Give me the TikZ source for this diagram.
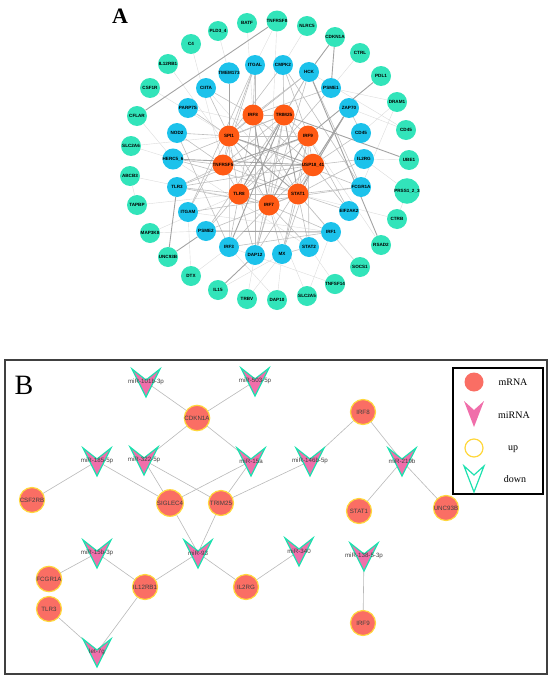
\documentclass[tikz,border=0pt]{standalone}
\usepackage{fontspec}
\setmainfont{Liberation Serif}
\setsansfont{Liberation Sans}
\usepackage{xcolor}
\definecolor{ColG}{RGB}{50,228,186}
\definecolor{ColB}{RGB}{28,194,235}
\definecolor{ColO}{RGB}{255,90,20}
\definecolor{ColM}{RGB}{250,110,100}
\definecolor{ColUp}{RGB}{255,215,60}
\definecolor{ColR}{RGB}{240,110,170}
\definecolor{ColDn}{RGB}{30,225,175}
\usepackage{tikz}
\usetikzlibrary{backgrounds}
\tikzstyle{NodeA}=[circle,inner sep=0pt,minimum size=20pt,
font=\fontsize{4.6}{5}\sffamily\bfseries]
\tikzstyle{Outer}=[NodeA,fill=ColG]
\tikzstyle{Mid}=[NodeA,fill=ColB]
\tikzstyle{Hub}=[NodeA,fill=ColO,minimum size=21pt]
\tikzstyle{EdgeL}=[draw=gray!28,line width=0.4pt]
\tikzstyle{EdgeM}=[draw=gray!50,line width=0.6pt]
\tikzstyle{EdgeD}=[draw=gray!72,line width=0.9pt]
\tikzstyle{MRNA}=[circle,draw=ColUp,fill=ColM,line width=1.2pt,
minimum size=25pt,inner sep=0pt,font=\fontsize{6.2}{7}\sffamily,text=black!75]
\tikzstyle{MiRLabel}=[inner sep=0pt,font=\fontsize{6.2}{7}\sffamily,text=black!75]
\tikzstyle{MiRShape}=[fill=ColR,draw=ColDn,line width=1.2pt,line join=miter]
\tikzstyle{EdgeB}=[draw=gray!55,line width=0.6pt]
\tikzstyle{LegText}=[font=\fontsize{10}{12}\selectfont]
% miRNA: name, x, y, label
\newcommand{\MiRna}[4]{%
  \path[MiRShape](#2-14,#3-13)--(#2,#3-2)--(#2+14,#3-13)--(#2,#3+15)--cycle;
  \node[MiRLabel](#1)at(#2,#3){#4};}
\begin{document}
\begin{tikzpicture}[x=1pt,y=-1pt]
    \useasboundingbox(0,0)rectangle(550,680);
    % panel A
    \node(labA)at(120,16){\fontsize{22}{22}\selectfont\bfseries A};
    % outer ring
    \node[Outer](batf)at(247,23){BATF};
    \node[Outer](tnfrsf8)at(277,21){TNFRSF8};
    \node[Outer](pld)at(218,31){PLD3\_4};
    \node[Outer](nlrc)at(307,26){NLRC5};
    \node[Outer](cdkn)at(335,37){CDKN1A};
    \node[Outer](c4)at(191,44){C4};
    \node[Outer](ctrl)at(360,53){CTRL};
    \node[Outer](ilrb)at(168,64){IL12RB1};
    \node[Outer](pdl)at(381,76){PDL1};
    \node[Outer](csf)at(150,88){CSF1R};
    \node[Outer](dram)at(397,102){DRAM1};
    \node[Outer](cflar)at(137,116){CFLAR};
    \node[Outer](cdg)at(406,130){CD45};
    \node[Outer](slcs)at(131,146){SLC2A6};
    \node[Outer](ube)at(409,160){UBE1};
    \node[Outer](abcb)at(130,176){ABCB3};
    \node[Outer](prss)at(407,191){PRSS1\_2\_3};
    \node[Outer](tapbp)at(137,205){TAPBP};
    \node[Outer](ctrb)at(397,219){CTRB};
    \node[Outer](map)at(150,233){MAP3K8};
    \node[Outer](rsad)at(381,245){RSAD2};
    \node[Outer](unc)at(168,257){UNC93B};
    \node[Outer](socs)at(360,267){SOCS1};
    \node[Outer](dtx)at(191,276){DTX};
    \node[Outer](tnfsf)at(335,284){TNFSF14};
    \node[Outer](il15)at(218,290){IL15};
    \node[Outer](slcf)at(307,296){SLC2A5};
    \node[Outer](trbv)at(247,299){TRBV};
    \node[Outer](dap10)at(277,300){DAP10};
    % middle ring
    \node[Mid](itgal)at(255,65){ITGAL};
    \node[Mid](cmpk)at(283,65){CMPK2};
    \node[Mid](hck)at(309,72){HCK};
    \node[Mid](tmem)at(229,73){TMEM173};
    \node[Mid](ciita)at(206,88){CIITA};
    \node[Mid](psmeA)at(331,88){PSME1};
    \node[Mid](parp)at(188,108){PARP7S};
    \node[Mid](zap)at(349,108){ZAP70};
    \node[Mid](nod)at(177,133){NOD2};
    \node[Mid](cdb)at(361,133){CD45};
    \node[Mid](herc)at(173,159){HERC5\_6};
    \node[Mid](ilrg)at(364,159){IL2RG};
    \node[Mid](tlr3)at(177,187){TLR3};
    \node[Mid](fcgr)at(361,187){FCGR1A};
    \node[Mid](itgam)at(188,212){ITGAM};
    \node[Mid](eif)at(349,211){EIF2AK2};
    \node[Mid](psmeB)at(206,231){PSME2};
    \node[Mid](irf1)at(331,232){IRF1};
    \node[Mid](irf3)at(229,247){IRF3};
    \node[Mid](stat2)at(309,247){STAT2};
    \node[Mid](dap12)at(255,255){DAP12};
    \node[Mid](mx)at(282,254){MX};
    % hubs
    \node[Hub](irfe)at(253,115){IRF8};
    \node[Hub](trim)at(284,115){TRIM25};
    \node[Hub](spi)at(229,136){SPI1};
    \node[Hub](irfn)at(308,136){IRF9};
    \node[Hub](tnfrsfv)at(223,165){TNFRSF5};
    \node[Hub](usp)at(313,165){USP18\_41};
    \node[Hub](tlr8)at(239,194){TLR8};
    \node[Hub](stat1)at(298,194){STAT1};
    \node[Hub](irf7)at(269,205){IRF7};
    \begin{scope}[on background layer]
    \foreach \a/\b in {batf/irfe,pld/tmem,c4/tnfrsfv,csf/spi,ilrb/irf7,
        slcs/spi,abcb/tapbp,tapbp/tlr8,map/psmeB,map/tlr8,dtx/irf3,
        dtx/itgam,trbv/dap12,trbv/mx,dap10/mx,slcf/irf1,slcf/irf7,
        tnfsf/stat2,tnfsf/irf3,socs/irf1,ctrb/prss,ctrb/stat1,cdg/hck,
        dram/psmeA,dram/fcgr,ctrl/psmeA,nlrc/cmpk,tnfrsf8/itgal,
        tnfrsf8/irf7,cflar/herc,slcs/herc,rsad/irfn,socs/stat1,prss/ilrg,
        cdg/zap,dram/cdb,ube/ilrg,abcb/irf7,il15/mx,dap10/irf3,
        itgam/irf1,herc/stat2,parp/irfn,ciita/stat1,tmem/irf3}
        \draw[EdgeL](\a)--(\b);
    \foreach \a/\b in {spi/irfe,spi/trim,spi/irfn,spi/tlr8,spi/tnfrsfv,
        spi/irf7,irfe/trim,irfe/stat1,irfe/tlr8,irfe/usp,trim/irfn,
        trim/usp,trim/irf7,trim/tnfrsfv,irfn/usp,irfn/stat1,irfn/tlr8,
        usp/stat1,usp/irf7,usp/tnfrsfv,tnfrsfv/tlr8,tnfrsfv/stat1,
        tlr8/irf7,tlr8/stat1,irf7/stat1,irf7/irf3,irf7/dap12,irf7/mx,
        irf7/stat2,irf7/irf1,irf7/tlr3,stat1/irf1,stat1/stat2,stat1/mx,
        stat1/eif,stat1/fcgr,stat1/ilrg,stat1/psmeB,stat1/herc,irfn/mx,
        irfn/stat2,irfn/eif,usp/mx,usp/ilrg,usp/eif,usp/cdb,tlr8/tlr3,
        tlr8/irf3,tlr8/dap12,tlr8/hck,spi/ciita,spi/parp,spi/nod,
        spi/itgal,spi/hck,spi/fcgr,spi/itgam,spi/cmpk,tnfrsfv/herc,
        tnfrsfv/tlr3,tnfrsfv/nod,tnfrsfv/itgal,irfe/ciita,irfe/itgal,
        irfe/hck,irfe/psmeA,trim/cmpk,trim/hck,trim/psmeB,trim/herc,
        trim/dap12,irfn/cmpk,irfn/tlr3,hck/fcgr,hck/dap12,psmeA/psmeB,
        itgal/itgam,zap/dap12,irf3/irf1,stat2/mx,nod/irf3,itgam/fcgr,
        cdb/zap,cmpk/fcgr,itgal/dap12,tlr3/usp}
        \draw[EdgeM](\a)--(\b);
    \foreach \a/\b in {cflar/tnfrsf8,tmem/spi,cdkn/hck,cdkn/psmeA,
        pdl/irfn,ube/trim,tlr3/unc,psmeB/unc,dap12/il15,hck/rsad,
        zap/usp,spi/stat1,tnfrsfv/irfn,trim/stat1,irfe/irf7,tlr8/usp,
        spi/usp,irf7/irfn,tlr8/trim,psmeB/irf1,herc/usp,irf3/trim,
        zap/stat1}
        \draw[EdgeD](\a)--(\b);
    \end{scope}
    % panel B
    \draw[line width=1.5pt,black!75](5,360)rectangle(547,674);
    \node(labB)at(24,385){\fontsize{28}{28}\selectfont B};
    \node[MRNA](bCDKN1A)at(197,418){CDKN1A};
    \node[MRNA](bIRF8)at(363,412){IRF8};
    \node[MRNA](bCSF2RB)at(32,500){CSF2RB};
    \node[MRNA](bSIGLEC4)at(170,503){SIGLEC4};
    \node[MRNA](bTRIM25)at(221,503){TRIM25};
    \node[MRNA](bSTAT1)at(359,511){STAT1};
    \node[MRNA](bUNC93B)at(446,508){UNC93B};
    \node[MRNA](bFCGR1A)at(49,579){FCGR1A};
    \node[MRNA](bIL12RB1)at(145,587){IL12RB1};
    \node[MRNA](bIL2RG)at(246,587){IL2RG};
    \node[MRNA](bTLR3)at(49,609){TLR3};
    \node[MRNA](bIRF9)at(363,623){IRF9};
    \MiRna{m101}{146}{382}{miR-101b-3p}
    \MiRna{m503}{255}{381}{miR-503-5p}
    \MiRna{m185}{97}{461}{miR-185-5p}
    \MiRna{m322}{144}{460}{miR-322-5p}
    \MiRna{m15a}{251}{461}{miR-15a}
    \MiRna{m146}{310}{461}{miR-146b-5p}
    \MiRna{m219}{402}{461}{miR-219b}
    \MiRna{m15b}{97}{553}{miR-15b-3p}
    \MiRna{m93}{198}{553}{miR-93}
    \MiRna{m340}{299}{551}{miR-340}
    \MiRna{m138}{364}{556}{miR-138-5-3p}
    \MiRna{let}{97}{652}{let-7g}
    \begin{scope}[on background layer]
    \foreach \a/\b in {m101/bCDKN1A,m503/bCDKN1A,bCDKN1A/m322,
        bCDKN1A/m15a,m185/bCSF2RB,m185/bSIGLEC4,m322/bSIGLEC4,
        m322/bTRIM25,m15a/bSIGLEC4,m15a/bTRIM25,m146/bIRF8,
        m146/bTRIM25,bIRF8/m219,m219/bSTAT1,m219/bUNC93B,
        bSIGLEC4/m93,bTRIM25/m93,m93/bIL12RB1,m93/bIL2RG,
        bIL2RG/m340,m15b/bFCGR1A,m15b/bIL12RB1,bIL12RB1/let,
        bTLR3/let,m138/bIRF9}
        \draw[EdgeB](\a.center)--(\b.center);
    \end{scope}
    % legend
    \draw[line width=1.2pt](453,368)rectangle(543,494);
    \node[circle,fill=ColM,minimum size=19pt,inner sep=0pt](legM)at(474,382){};
    \node[LegText](legMt)at(513,382){mRNA};
    \path[fill=ColR](464,401)--(474,410)--(484,401)--(474,427)--cycle;
    \node[LegText](legRt)at(514,415){miRNA};
    \node[circle,draw=ColUp,line width=1.2pt,minimum size=18pt,
        inner sep=0pt](legU)at(474,448){};
    \node[LegText](legUt)at(513,449){up};
    \path[draw=ColDn,line width=1.2pt,line join=miter]
        (464,466)--(474,475)--(484,466)--(474,492)--cycle;
    \node[LegText](legDt)at(515,479){down};
\end{tikzpicture}
\end{document}
